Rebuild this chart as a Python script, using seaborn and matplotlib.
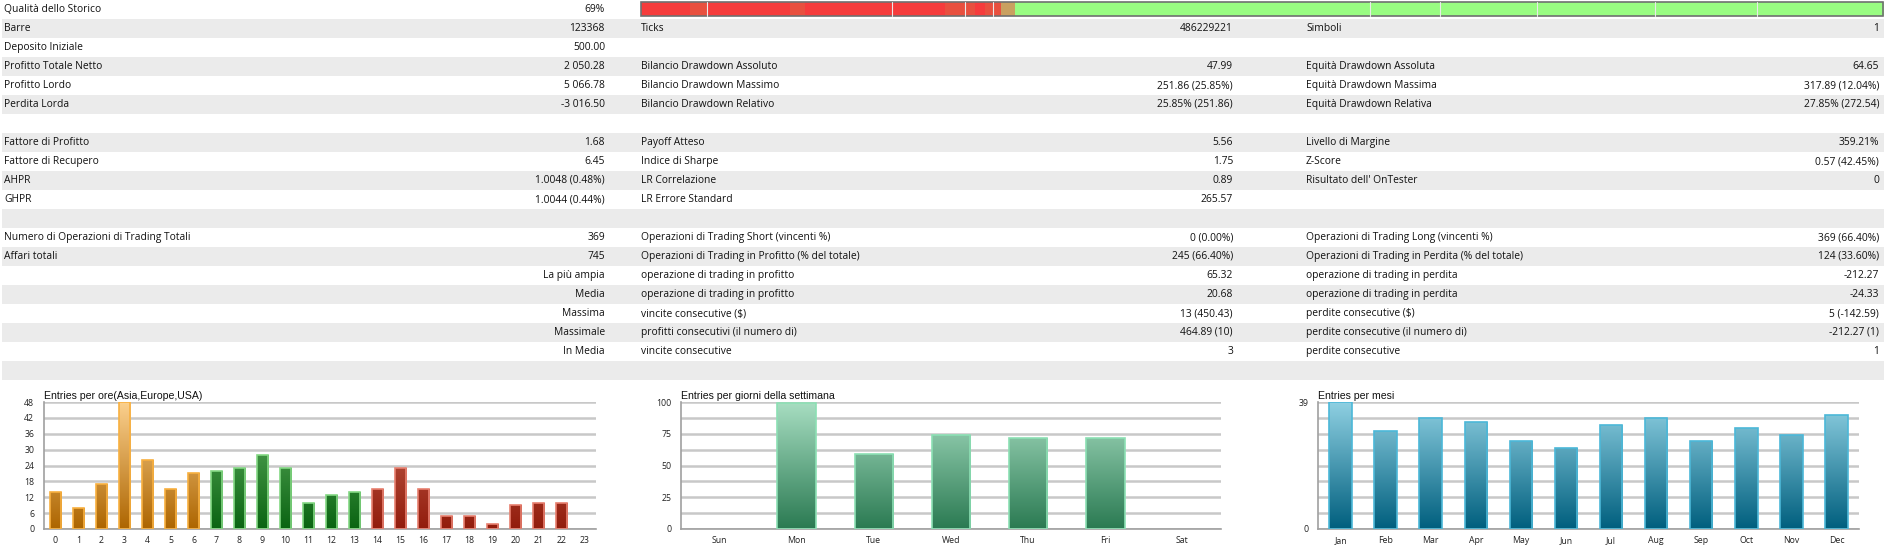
import numpy as np
import pandas as pd
import matplotlib
matplotlib.use("Agg")
import matplotlib.pyplot as plt
import seaborn as sns
from matplotlib.colors import LinearSegmentedColormap
from matplotlib.patches import Rectangle

sns.set_style("white")
plt.rcParams['font.family'] = ['Open Sans', 'DejaVu Sans']

# ---------------- data ----------------
rows_col1 = [("Qualità dello Storico", "69%"), ("Barre", "123368"), ("Deposito Iniziale", "500.00"),
             ("Profitto Totale Netto", "2 050.28"), ("Profitto Lordo", "5 066.78"), ("Perdita Lorda", "-3 016.50"),
             ("", ""), ("Fattore di Profitto", "1.68"), ("Fattore di Recupero", "6.45"),
             ("AHPR", "1.0048 (0.48%)"), ("GHPR", "1.0044 (0.44%)"), ("", ""),
             ("Numero di Operazioni di Trading Totali", "369"), ("Affari totali", "745"),
             ("", "La più ampia"), ("", "Media"), ("", "Massima"), ("", "Massimale"), ("", "In Media"), ("", "")]
rows_col2 = [("", ""), ("Ticks", "486229221"), ("", ""),
             ("Bilancio Drawdown Assoluto", "47.99"), ("Bilancio Drawdown Massimo", "251.86 (25.85%)"),
             ("Bilancio Drawdown Relativo", "25.85% (251.86)"), ("", ""),
             ("Payoff Atteso", "5.56"), ("Indice di Sharpe", "1.75"), ("LR Correlazione", "0.89"),
             ("LR Errore Standard", "265.57"), ("", ""),
             ("Operazioni di Trading Short (vincenti %)", "0 (0.00%)"),
             ("Operazioni di Trading in Profitto (% del totale)", "245 (66.40%)"),
             ("operazione di trading in profitto", "65.32"), ("operazione di trading in profitto", "20.68"),
             ("vincite consecutive ($)", "13 (450.43)"), ("profitti consecutivi (il numero di)", "464.89 (10)"),
             ("vincite consecutive", "3"), ("", "")]
rows_col3 = [("", ""), ("Simboli", "1"), ("", ""),
             ("Equità Drawdown Assoluta", "64.65"), ("Equità Drawdown Massima", "317.89 (12.04%)"),
             ("Equità Drawdown Relativa", "27.85% (272.54)"), ("", ""),
             ("Livello di Margine", "359.21%"), ("Z-Score", "0.57 (42.45%)"), ("Risultato dell' OnTester", "0"),
             ("", ""), ("", ""),
             ("Operazioni di Trading Long (vincenti %)", "369 (66.40%)"),
             ("Operazioni di Trading in Perdita (% del totale)", "124 (33.60%)"),
             ("operazione di trading in perdita", "-212.27"), ("operazione di trading in perdita", "-24.33"),
             ("perdite consecutive ($)", "5 (-142.59)"), ("perdite consecutive (il numero di)", "-212.27 (1)"),
             ("perdite consecutive", "1"), ("", "")]

hours = [str(h) for h in range(24)]
hour_counts = [14, 8, 17, 48, 26, 15, 21, 22, 23, 28, 23, 10, 13, 14, 15, 23, 15, 5, 5, 2, 9, 10, 10, 0]
hour_session = ["Asia"] * 7 + ["Europe"] * 7 + ["USA"] * 10

days = ["Sun", "Mon", "Tue", "Wed", "Thu", "Fri", "Sat"]
day_counts = [0, 99, 59, 74, 72, 72, 0]

months = ["Jan", "Feb", "Mar", "Apr", "May", "Jun", "Jul", "Aug", "Sep", "Oct", "Nov", "Dec"]
month_counts = [39, 30, 34, 33, 27, 25, 32, 34, 27, 31, 29, 35]

quality_pct = 69
chart_titles = ["Entries per ore(Asia,Europe,USA)", "Entries per giorni della settimana", "Entries per mesi"]

# ---------------- figure ----------------
W, H = 1884, 556
fig = plt.figure(figsize=(W / 100, H / 100), dpi=100)
tab = fig.add_axes([0, 0, 1, 1])
tab.set_xlim(0, W)
tab.set_ylim(H, 0)
tab.axis("off")

RH = 19
FS = 7.4
for i in range(len(rows_col1)):
    y = i * RH
    if i % 2 == 1:
        tab.add_patch(Rectangle((2, y), W - 2, RH, color="#ebebeb", lw=0))
    yc = y + RH / 2
    for (lab, val), lx, vx in ((rows_col1[i], 4, 605), (rows_col2[i], 641, 1233), (rows_col3[i], 1306, 1879)):
        if lab:
            tab.text(lx, yc, lab, ha="left", va="center", fontsize=FS, color="#111")
        if val:
            tab.text(vx, yc, val, ha="right", va="center", fontsize=FS, color="#111")

# quality bar
bx0, bx1 = 641, 1884
red_end = 1001
tab.add_patch(Rectangle((bx0, 2), red_end - bx0, 14, color="#f53c3c", lw=0))
for sx, sw in ((690, 18), (790, 15), (945, 30), (985, 16)):
    tab.add_patch(Rectangle((sx, 2), sw, 14, color="#e8503f", lw=0))
tab.add_patch(Rectangle((red_end, 2), 14, 14, color="#c9a060", lw=0))
tab.add_patch(Rectangle((1015, 2), bx1 - 1015, 14, color="#99fc82", lw=0))
for lx in (707, 892, 965, 993, 1370, 1440, 1537, 1655, 1757):
    tab.plot([lx, lx], [2, 16], color="#e9e9e9", lw=0.8)
tab.add_patch(Rectangle((bx0, 2), bx1 - bx0 - 1, 14, fill=False, ec="#707070", lw=1.2))


def gradient_bars(ax, top_colors, bottom_colors, edge_colors, ymax):
    grad = np.linspace(1, 0, 256).reshape(-1, 1)
    for p, tc, bc, ec in zip(ax.patches, top_colors, bottom_colors, edge_colors):
        h = p.get_height()
        if h <= 0:
            p.set_visible(False)
            continue
        x0 = p.get_x()
        w = p.get_width()
        cmap = LinearSegmentedColormap.from_list("g", [bc, tc])
        im = ax.imshow(grad, cmap=cmap, extent=(x0, x0 + w, 0, ymax), aspect="auto",
                       origin="upper", zorder=2, vmin=0, vmax=1)
        im.set_clip_path(p)
        p.set_facecolor("none")
        p.set_edgecolor(ec)
        p.set_linewidth(1.2)
        p.set_zorder(3)


def style_axes(ax, n, ymax, yticks, ylabels, title):
    ax.set_xlim(-0.5, n - 0.5)
    ax.set_ylim(0, ymax)
    ax.set_yticks(yticks)
    ax.set_yticklabels(ylabels)
    ax.set_xticks(range(n))
    ax.set_xticks(np.arange(n + 1) - 0.5, minor=True)
    ax.tick_params(axis="x", which="major", length=0, labelsize=6.3, pad=5, colors="#222")
    ax.tick_params(axis="x", which="minor", length=5, width=1, color="#a0a0a0", direction="out")
    ax.tick_params(axis="y", which="major", length=5, width=1, color="#a0a0a0", labelsize=6.3,
                   pad=2, colors="#222")
    ax.tick_params(axis="y", color="#a0a0a0")
    ax.yaxis.grid(True, color="#c8c8c8", lw=1.8, zorder=0)
    ax.set_axisbelow(True)
    for s in ("top", "right"):
        ax.spines[s].set_visible(False)
    for s in ("left", "bottom"):
        ax.spines[s].set_color("#a0a0a0")
        ax.spines[s].set_linewidth(1.2)
    ax.set_xlabel("")
    ax.set_ylabel("")
    ax.text(0.0, 1.005, title, transform=ax.transAxes, ha="left", va="bottom",
            fontsize=7.6, color="#111", family=["Liberation Sans", "DejaVu Sans"])


yb = (H - 529) / H
hh = (529 - 402) / H


def mkax(x0, x1):
    return fig.add_axes([x0 / W, yb, (x1 - x0) / W, hh])


# chart 1: hours
ax1 = mkax(44, 596)
df1 = pd.DataFrame({"hour": hours, "count": hour_counts, "session": hour_session})
sns.barplot(data=df1, x="hour", y="count", order=hours, color="#cccccc", width=0.5, ax=ax1, saturation=1)
pal_top = {"Asia": "#fbd08e", "Europe": "#66b466", "USA": "#c86a58"}
pal_bot = {"Asia": "#ad6500", "Europe": "#0a6412", "USA": "#921c0c"}
pal_edge = {"Asia": "#f8b040", "Europe": "#84d884", "USA": "#e88070"}
gradient_bars(ax1, [pal_top[s] for s in hour_session], [pal_bot[s] for s in hour_session],
              [pal_edge[s] for s in hour_session], 48)
style_axes(ax1, 24, 48, list(range(0, 49, 6)), [str(v) for v in range(0, 49, 6)], chart_titles[0])

# chart 2: weekdays
ax2 = mkax(681, 1221)
df2 = pd.DataFrame({"day": days, "count": day_counts})
sns.barplot(data=df2, x="day", y="count", order=days, color="#cccccc", width=0.5, ax=ax2, saturation=1)
gradient_bars(ax2, ["#a8dec2"] * 7, ["#2a7a52"] * 7, ["#8ce0b4"] * 7, 100)
yt2 = list(np.arange(0, 100.1, 12.5))
style_axes(ax2, 7, 100, yt2, [str(int(v)) if v % 25 == 0 else "" for v in yt2], chart_titles[1])

# chart 3: months
ax3 = mkax(1318, 1859)
df3 = pd.DataFrame({"month": months, "count": month_counts})
sns.barplot(data=df3, x="month", y="count", order=months, color="#cccccc", width=0.5, ax=ax3, saturation=1)
gradient_bars(ax3, ["#8fd0e2"] * 12, ["#005f7e"] * 12, ["#4cb8d8"] * 12, 39)
yt3 = list(np.linspace(0, 39, 9))
style_axes(ax3, 12, 39, yt3, ["0"] + [""] * 7 + ["39"], chart_titles[2])

fig.savefig("out.png", dpi=100)
